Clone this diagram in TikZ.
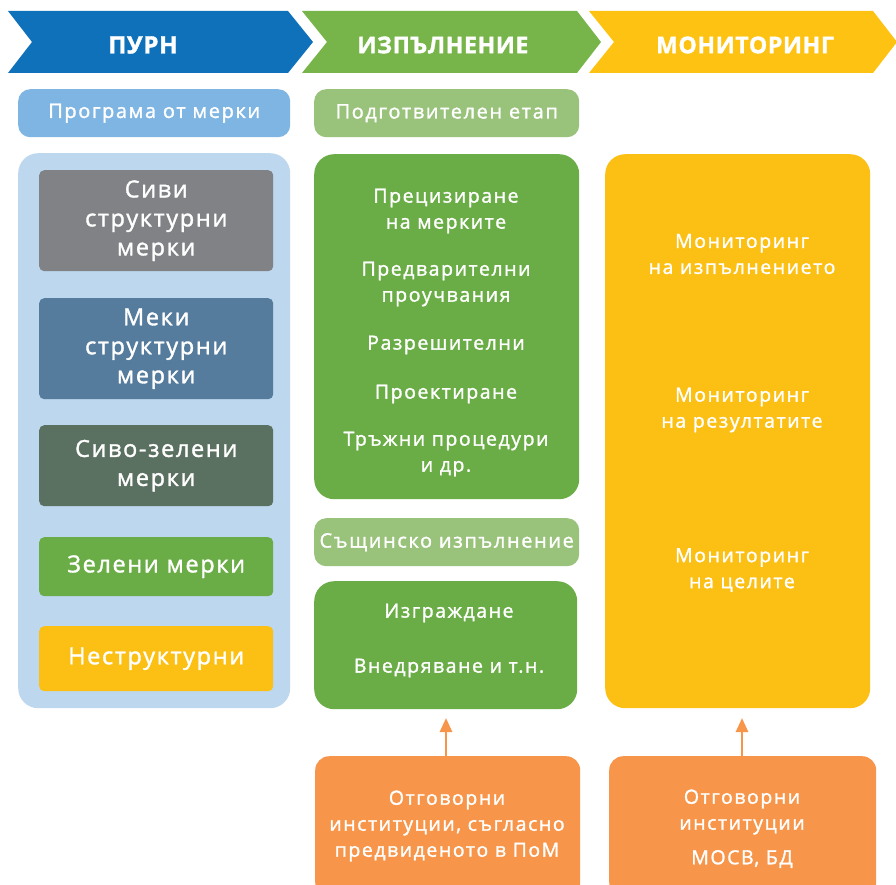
\documentclass[tikz,border=0pt]{standalone}
\usepackage{fontspec}
\setmainfont{Open Sans}[LetterSpace=8, FakeBold=1.5, BoldFont={Open Sans Bold}, BoldFeatures={LetterSpace=3}]
\usetikzlibrary{arrows.meta}
\definecolor{hblue}{HTML}{0F71B9}
\definecolor{hgreen}{HTML}{77B54A}
\definecolor{hyellow}{HTML}{FEC312}
\definecolor{lblue}{HTML}{7FB5E2}
\definecolor{pblue}{HTML}{BDD7EE}
\definecolor{cgray}{HTML}{808285}
\definecolor{csteel}{HTML}{557B9D}
\definecolor{cgreygreen}{HTML}{5A7161}
\definecolor{cgreen}{HTML}{6AAC46}
\definecolor{lgreen}{HTML}{99C27A}
\definecolor{cyellow}{HTML}{FCC015}
\definecolor{corange}{HTML}{F7954A}
\begin{document}
\begin{tikzpicture}[x=1pt,y=-1pt,
  box/.style={rounded corners=#1, inner sep=0pt, anchor=north west},
  box/.default=10pt,
  txt/.style={text=white, align=center, font=\fontsize{19.5}{26}\selectfont},
  bigtxt/.style={text=white, align=center, font=\fontsize{23.5}{29}\selectfont\addfontfeatures{LetterSpace=7}},
  head/.style={text=white, font=\fontsize{23}{25}\selectfont\bfseries},
  arr/.style={draw=corange, line width=2.6pt, -{Triangle[width=12pt,length=14pt]}}]
\useasboundingbox (0,0) rectangle (896,885);
% header chevrons
\fill[hblue] (8,11) -- (288,11) -- (313,42) -- (288,73) -- (8,73) -- (32,42) -- cycle;
\fill[hgreen] (302,11) -- (577,11) -- (601,42) -- (577,73) -- (302,73) -- (327,42) -- cycle;
\fill[hyellow] (589,11) -- (873,11) -- (897,42) -- (873,73) -- (589,73) -- (614,42) -- cycle;
\node[head, font=\fontsize{24}{25}\selectfont\bfseries] (h1) at (143,45) {ПУРН};
\node[head] (h2) at (443,45) {ИЗПЪЛНЕНИЕ};
\node[head] (h3) at (745,45) {МОНИТОРИНГ};
% left column
\node[box=12pt, fill=lblue, minimum width=272pt, minimum height=48pt] (pom) at (18,89) {};
\node[txt, font=\fontsize{20}{26}\selectfont] at (pom.center) {Програма от мерки};
\node[box=20pt, fill=pblue, minimum width=272pt, minimum height=555pt] (lpanel) at (18,153) {};
\node[box=5pt, fill=cgray, minimum width=234pt, minimum height=101pt] (m1) at (39,170) {};
\node[bigtxt] at (m1.center) {Сиви\\структурни\\мерки};
\node[box=5pt, fill=csteel, minimum width=234pt, minimum height=101pt] (m2) at (39,298) {};
\node[bigtxt] at (m2.center) {Меки\\структурни\\мерки};
\node[box=5pt, fill=cgreygreen, minimum width=234pt, minimum height=81pt] (m3) at (39,425) {};
\node[bigtxt] at (m3.center) {Сиво-зелени\\мерки};
\node[box=5pt, fill=cgreen, minimum width=234pt, minimum height=59pt] (m4) at (39,537) {};
\node[bigtxt] at (m4.center) {Зелени мерки};
\node[box=5pt, fill=cyellow, minimum width=234pt, minimum height=65pt] (m5) at (39,626) {};
\node[bigtxt] at (m5.center) {Неструктурни};
% middle column
\node[box=12pt, fill=lgreen, minimum width=265pt, minimum height=48pt] (prep) at (314,89) {};
\node[txt, font=\fontsize{20}{26}\selectfont] at (prep.center) {Подготвителен етап};
\node[box=20pt, fill=cgreen, minimum width=265pt, minimum height=345pt] (g1) at (314,154) {};
\node[txt] (t1) at (446,211) {Прецизиране\\на мерките};
\node[txt] (t2) at (446,284) {Предварителни\\проучвания};
\node[txt] (t3) at (446,345) {Разрешителни};
\node[txt] (t4) at (446,394) {Проектиране};
\node[txt] (t5) at (446,454) {Тръжни процедури\\и др.};
\node[box=12pt, fill=lgreen, minimum width=265pt, minimum height=48pt] (act) at (314,518) {};
\node[txt, font=\fontsize{20}{26}\selectfont] at (act.center) {Същинско изпълнение};
\node[box=20pt, fill=cgreen, minimum width=263pt, minimum height=128pt] (g2) at (314,581) {};
\node[txt] (t6) at (449,613) {Изграждане};
\node[txt] (t7) at (449,668) {Внедряване и т.н.};
\node[box=14pt, fill=corange, minimum width=265pt, minimum height=140pt] (o1) at (315,756) {};
\node[txt] (o1t) at (447,826) {Отговорни\\институции, съгласно\\предвиденото в ПоМ};
% right column
\node[box=20pt, fill=cyellow, minimum width=265pt, minimum height=554pt] (y1) at (605,154) {};
\node[txt] (r1) at (742,254) {Мониторинг\\на изпълнението};
\node[txt] (r2) at (742,410) {Мониторинг\\на резултатите};
\node[txt] (r3) at (742,570) {Мониторинг\\на целите};
\node[box=14pt, fill=corange, minimum width=267pt, minimum height=140pt] (o2) at (609,756) {};
\node[txt] (o2t) at (742,812) {Отговорни\\институции};
\node[txt] (o2b) at (742,859) {МОСВ, БД};
% arrows
\coordinate (a1s) at (446,756);
\coordinate (a1e) at (446,718);
\coordinate (a2s) at (742,756);
\coordinate (a2e) at (742,718);
\draw[arr] (a1s) -- (a1e);
\draw[arr] (a2s) -- (a2e);
\end{tikzpicture}
\end{document}
